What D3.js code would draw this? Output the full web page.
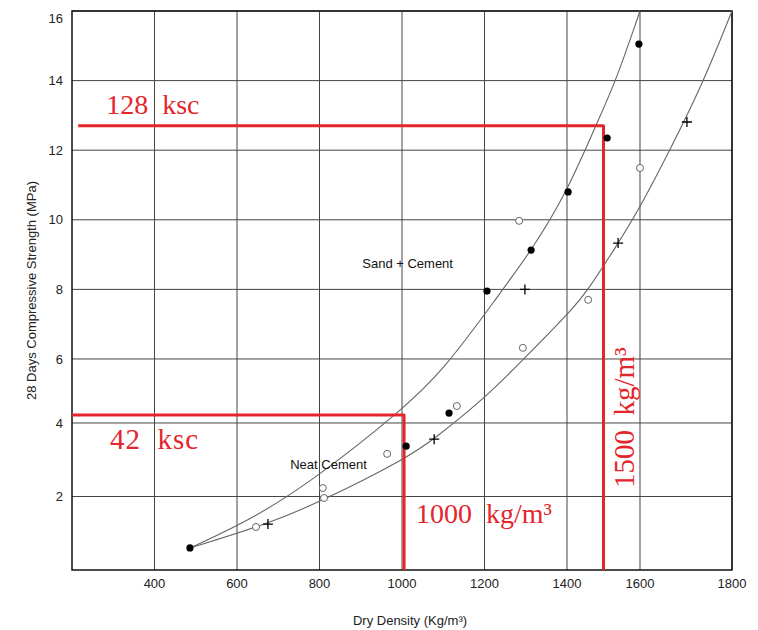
<!DOCTYPE html>
<html>
<head>
<meta charset="utf-8">
<script src="https://d3js.org/d3.v7.min.js"></script>
<style>
  body { margin: 0; background: #fff; }
  svg { display: block; }
</style>
</head>
<body>
<svg id="chart" width="758" height="630"></svg>
<script>
// grid ticks
const xTicks = [400, 600, 800, 1000, 1200, 1400, 1600, 1800];
const yTicks = [2, 4, 6, 8, 10, 12, 14, 16];

// test results [dry density, strength]
const solidDots = [[486, 0.6], [1010, 3.37], [1114, 4.31], [1206, 7.95], [1313, 9.13], [1403, 10.8], [1510, 12.35], [1597, 15.05]];
const openDots = [[646, 1.17], [808, 2.23], [811, 1.96], [964, 3.16], [1133, 4.53], [1284, 9.97], [1293, 6.32], [1458, 7.7], [1600, 11.49]];
const plusMarks = [[675, 1.25], [1078, 3.56], [1298, 8.0], [1540, 9.33], [1702, 12.81]];

// fitted curves
const upperCurve = [[486, 0.6], [644, 1.42], [801, 2.58], [988, 4.28], [1099, 5.6], [1238, 7.9], [1313, 9.1], [1400, 10.8], [1477, 12.67], [1532, 13.93], [1600, 16]];
const lowerCurve = [[486, 0.6], [675, 1.25], [811, 1.9], [1012, 3.05], [1075, 3.54], [1196, 4.72], [1293, 5.97], [1400, 7.26], [1455, 7.93], [1537, 9.28], [1592, 10.2], [1665, 12.0], [1737, 13.93], [1800, 16]];

// red guides: from x0 at strength y, then down at density x
const guideX0 = [215, 200];
const guideY = [12.7, 4.25];
const guideX = [1500, 1005];

const margin = {top: 11, right: 26, bottom: 60, left: 72};
const W = 758 - margin.left - margin.right;
const H = 630 - margin.top - margin.bottom;

// the scanned grid is a little uneven, so the scales are piecewise
const x = d3.scaleLinear().domain([200, 1400, 1600, 1800]).range([0, 0.75 * W, 0.8606 * W, W]);
const y = d3.scaleLinear().domain([0, 4, 6, 16]).range([H, H * 0.737, H * 0.6225, 0]);

const svg = d3.select("#chart");
const g = svg.append("g").attr("transform", `translate(${margin.left},${margin.top})`);

const font = "'Liberation Sans', Arial, sans-serif";
const red = "#e4262c";

// grid
g.append("g").selectAll("line").data(xTicks).join("line")
  .attr("x1", d => x(d)).attr("x2", d => x(d))
  .attr("y1", 0).attr("y2", H)
  .attr("stroke", "#444").attr("stroke-width", 1);
g.append("g").selectAll("line").data(yTicks).join("line")
  .attr("x1", 0).attr("x2", W)
  .attr("y1", d => y(d)).attr("y2", d => y(d))
  .attr("stroke", "#444").attr("stroke-width", 1);

g.append("rect")
  .attr("width", W).attr("height", H)
  .attr("fill", "none").attr("stroke", "#111").attr("stroke-width", 1.5);

// tick labels
g.append("g").selectAll("text").data(xTicks).join("text")
  .attr("x", d => x(d)).attr("y", H + 18)
  .attr("text-anchor", "middle")
  .style("font", `13px ${font}`).attr("fill", "#222")
  .text(d => d);
g.append("g").selectAll("text").data(yTicks).join("text")
  .attr("x", -9).attr("y", d => Math.max(y(d), 7)).attr("dy", "0.35em")
  .attr("text-anchor", "end")
  .style("font", `13px ${font}`).attr("fill", "#222")
  .text(d => d);

// axis titles
svg.append("text")
  .attr("x", 410).attr("y", 625)
  .attr("text-anchor", "middle")
  .style("font", `13px ${font}`).attr("fill", "#222")
  .text("Dry Density (Kg/m³)");
svg.append("text")
  .attr("transform", `translate(36,${margin.top + H / 2}) rotate(-90)`)
  .attr("text-anchor", "middle")
  .style("font", `13px ${font}`).attr("fill", "#222")
  .text("28 Days Compressive Strength (MPa)");

// curves (smoothed in screen space)
const line = d3.line().x(d => x(d[0])).y(d => y(d[1])).curve(d3.curveBasis);
[upperCurve, lowerCurve].forEach(c => {
  g.append("path").datum(c)
    .attr("d", line)
    .attr("fill", "none").attr("stroke", "#666").attr("stroke-width", 1.1);
});

// red guides
guideY.forEach((gy, i) => {
  g.append("path")
    .attr("d", `M${x(guideX0[i])},${y(gy)}H${x(guideX[i])}V${H}`)
    .attr("fill", "none").attr("stroke", red).attr("stroke-width", 3)
    .attr("stroke-linejoin", "round");
});

// markers
g.append("g").selectAll("circle").data(openDots).join("circle")
  .attr("cx", d => x(d[0])).attr("cy", d => y(d[1])).attr("r", 3.5)
  .attr("fill", "#fff").attr("stroke", "#666").attr("stroke-width", 1);
g.append("g").selectAll("circle").data(solidDots).join("circle")
  .attr("cx", d => x(d[0])).attr("cy", d => y(d[1])).attr("r", 3.6)
  .attr("fill", "#000");
g.append("g").selectAll("path").data(plusMarks).join("path")
  .attr("d", d => `M${x(d[0]) - 5},${y(d[1])}h10M${x(d[0])},${y(d[1]) - 5}v10`)
  .attr("stroke", "#000").attr("stroke-width", 1.3);

// curve labels
g.append("text")
  .attr("x", x(1210) - 81).attr("y", y(8) - 21)
  .attr("text-anchor", "middle")
  .style("font", `13px ${font}`).attr("fill", "#111")
  .text("Sand + Cement");
g.append("text")
  .attr("x", x(800) + 9).attr("y", y(2) - 27)
  .attr("text-anchor", "middle")
  .style("font", `13px ${font}`).attr("fill", "#111")
  .text("Neat Cement");

// red annotations
const serif = "'Liberation Serif', 'Times New Roman', serif";
g.append("text")
  .attr("x", x(guideX0[0]) + 28).attr("y", y(guideY[0]) - 12)
  .style("font", `28px ${serif}`).attr("fill", red)
  .text("128\u00a0\u00a0ksc");
g.append("text")
  .attr("x", x(guideX0[1]) + 38).attr("y", y(guideY[1]) + 34)
  .style("font", `29px ${serif}`).attr("fill", red)
  .attr("letter-spacing", 1)
  .text("42\u00a0\u00a0ksc");
g.append("text")
  .attr("x", x(guideX[1]) + 12).attr("y", H - 47)
  .style("font", `28px ${serif}`).attr("fill", red)
  .text("1000\u00a0\u00a0kg/m³");
g.append("text")
  .attr("transform", `translate(${x(guideX[0]) + 31},${H - 82}) rotate(-90)`)
  .style("font", `29px ${serif}`).attr("fill", red)
  .text("1500\u00a0\u00a0kg/m³");
</script>
</body>
</html>
